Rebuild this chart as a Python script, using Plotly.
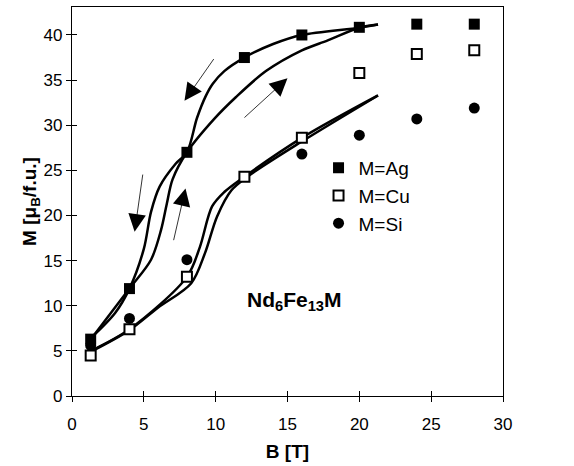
import plotly.graph_objects as go

# ---------------- data ----------------
ag_B = [1.3, 4, 8, 12, 16, 20, 24, 28]
ag_M = [6.3, 11.9, 27.0, 37.5, 40.0, 40.85, 41.2, 41.2]

cu_B = [1.3, 4, 8, 12, 16, 20, 24, 28]
cu_M = [4.5, 7.4, 13.2, 24.3, 28.6, 35.8, 37.9, 38.3]

si_B = [1.3, 4, 8, 16, 20, 24, 28]
si_M = [5.6, 8.6, 15.1, 26.8, 28.9, 30.7, 31.9]

# hysteresis curves (field down / field up)
ag_dec_B = [1.3, 3.0, 4.0, 5.0, 5.5, 6.1, 7.2, 8.0, 8.7, 9.3, 9.8, 10.6, 12.0, 14.0, 16.0, 20.0, 21.3]
ag_dec_M = [6.4, 9.2, 11.9, 16.3, 20.4, 23.2, 25.7, 27.0, 30.8, 33.2, 34.6, 36.0, 37.5, 39.0, 40.0, 40.8, 41.15]
ag_inc_B = [1.3, 4.0, 5.5, 6.2, 6.6, 7.0, 8.0, 9.9, 11.4, 13.5, 16.0, 17.8, 20.0, 21.3]
ag_inc_M = [6.25, 11.9, 15.1, 18.4, 21.3, 24.0, 27.0, 30.7, 33.1, 36.0, 38.3, 39.4, 40.8, 41.15]

cu_dec_B = [1.3, 4.0, 8.0, 8.9, 9.75, 10.6, 12.0, 16.0, 21.3]
cu_dec_M = [5.0, 7.4, 13.2, 16.5, 21.0, 22.6, 24.3, 28.6, 33.3]
cu_inc_B = [1.3, 4.0, 6.0, 8.3, 9.25, 10.1, 11.1, 12.3, 16.0, 21.3]
cu_inc_M = [4.9, 7.3, 9.8, 12.5, 15.8, 19.9, 22.8, 24.4, 28.2, 33.3]

# arrows: tail (B, M) -> tip (B, M)
arrow_tail_B = [9.94, 11.9, 4.94, 7.05]
arrow_tail_M = [37.5, 30.7, 24.7, 17.1]
arrow_tip_B = [7.83, 15.0, 4.36, 7.9]
arrow_tip_M = [32.7, 35.2, 18.2, 23.0]

x_ticks = [0, 5, 10, 15, 20, 25, 30]
y_ticks = [0, 5, 10, 15, 20, 25, 30, 35, 40]

FONT = "Liberation Sans, Arial, sans-serif"

fig = go.Figure()

line_style = dict(color="black", width=2.5, shape="spline", smoothing=0.9)
for bx, my in [(ag_dec_B, ag_dec_M), (ag_inc_B, ag_inc_M),
               (cu_dec_B, cu_dec_M), (cu_inc_B, cu_inc_M)]:
    fig.add_trace(go.Scatter(x=bx, y=my, mode="lines", line=line_style,
                             showlegend=False, hoverinfo="skip"))

fig.add_trace(go.Scatter(x=si_B, y=si_M, mode="markers", name="M=Si", legendrank=3,
                         legendgroup="si",
                         marker=dict(symbol="circle", size=11, color="black",
                                     line=dict(width=0))))
fig.add_trace(go.Scatter(x=ag_B, y=ag_M, mode="markers", name="M=Ag", legendrank=1,
                         legendgroup="ag",
                         marker=dict(symbol="square", size=11, color="black",
                                     line=dict(width=0))))
fig.add_trace(go.Scatter(x=cu_B, y=cu_M, mode="markers", name="M=Cu", legendrank=2,
                         legendgroup="cu",
                         marker=dict(symbol="square", size=10, color="white",
                                     line=dict(width=2, color="black"))))

# invisible trace for the secondary tick axes
fig.add_trace(go.Scatter(x=[None], y=[None], xaxis="x2", yaxis="y2",
                         showlegend=False, hoverinfo="skip"))

for tb, tm, hb, hm in zip(arrow_tail_B, arrow_tail_M, arrow_tip_B, arrow_tip_M):
    fig.add_annotation(x=hb, y=hm, ax=tb, ay=tm, xref="x", yref="y",
                       axref="x", ayref="y", text="", showarrow=True,
                       arrowhead=2, arrowwidth=0.8, arrowsize=4.4,
                       arrowcolor="black")

fig.add_annotation(x=15.5, y=10.5, xref="x", yref="y", showarrow=False,
                   text="<b>Nd<sub>6</sub>Fe<sub>13</sub>M</b>",
                   font=dict(family=FONT, size=21, color="black"))

axis_common = dict(showgrid=False, zeroline=False, showline=True, linecolor="black",
                   linewidth=1.2, mirror=True, ticks="outside", ticklen=5,
                   tickwidth=1.2, tickcolor="black",
                   tickfont=dict(family=FONT, size=17, color="black"))

fig.update_layout(
    width=574, height=466,
    margin=dict(l=72, r=71, t=7, b=70),
    paper_bgcolor="white", plot_bgcolor="white",
    xaxis=dict(range=[0, 30], tickvals=x_ticks, ticklabelstandoff=7, **axis_common,
               title=dict(text="<b>B [T]</b>", standoff=12,
                          font=dict(family=FONT, size=19, color="black"))),
    yaxis=dict(range=[0, 43.1], tickvals=y_ticks, **axis_common,
               title=dict(text="<b>M [μ<sub>B</sub>/f.u.]</b>", standoff=1,
                          font=dict(family=FONT, size=19, color="black"))),
    xaxis2=dict(overlaying="x", anchor="y", range=[0, 30], tickvals=x_ticks,
                ticks="inside", ticklen=5, tickwidth=1.2, tickcolor="black",
                showticklabels=False, showgrid=False, zeroline=False, showline=False),
    yaxis2=dict(overlaying="y", anchor="x", range=[0, 43.1], tickvals=y_ticks,
                ticks="inside", ticklen=5, tickwidth=1.2, tickcolor="black",
                showticklabels=False, showgrid=False, zeroline=False, showline=False),
    legend=dict(x=0.572, y=0.635, xanchor="left", yanchor="top",
                bgcolor="rgba(0,0,0,0)", borderwidth=0, itemwidth=30,
                tracegroupgap=0,
                font=dict(family=FONT, size=19, color="black")),
    showlegend=True,
)

fig.write_html("out.html")
